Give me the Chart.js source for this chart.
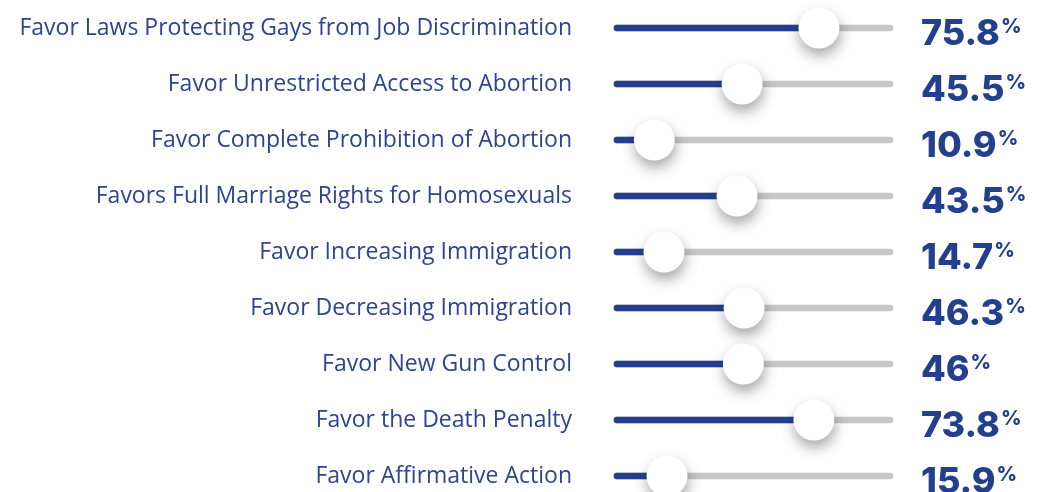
<!DOCTYPE html>
<html>
<head>
<meta charset="utf-8">
<script src="https://cdn.jsdelivr.net/npm/chart.js@4.4.1/dist/chart.umd.min.js"></script>
<style>
  html, body { margin: 0; padding: 0; background: #fff; }
  #wrap { width: 1040px; height: 492px; position: relative; }
</style>
</head>
<body>
<div id="wrap"><canvas id="opinions"></canvas></div>
<script>
const labels = [
  "Favor Laws Protecting Gays from Job Discrimination",
  "Favor Unrestricted Access to Abortion",
  "Favor Complete Prohibition of Abortion",
  "Favors Full Marriage Rights for Homosexuals",
  "Favor Increasing Immigration",
  "Favor Decreasing Immigration",
  "Favor New Gun Control",
  "Favor the Death Penalty",
  "Favor Affirmative Action"
];
const values = [75.8, 45.5, 10.9, 43.5, 14.7, 46.3, 46, 73.8, 15.9];
const valueLabels = ["75.8", "45.5", "10.9", "43.5", "14.7", "46.3", "46", "73.8", "15.9"];

const AXIS_MIN = -5;
const AXIS_MAX = 105;
const BLUE = "#243f8e";
const LABEL_BLUE = "#2d4393";
const TRACK = "#c6c6c6";

// shadow under the slider knobs
const knobShadow = {
  id: 'knobShadow',
  beforeDatasetDraw(chart, args) {
    if (args.index !== 0) return;
    const ctx = chart.ctx;
    ctx.save();
    ctx.shadowColor = 'rgba(0,0,0,0.35)';
    ctx.shadowBlur = 14;
    ctx.shadowOffsetX = 1;
    ctx.shadowOffsetY = 7;
  },
  afterDatasetDraw(chart, args) {
    if (args.index !== 0) return;
    chart.ctx.restore();
  }
};

// big percentage numbers to the right of each slider
const valueText = {
  id: 'valueText',
  afterDraw(chart) {
    const ctx = chart.ctx;
    const yScale = chart.scales.y;
    const x0 = chart.chartArea.right + 28;
    ctx.save();
    ctx.fillStyle = BLUE;
    ctx.textAlign = 'left';
    ctx.textBaseline = 'alphabetic';
    valueLabels.forEach((txt, i) => {
      const y = yScale.getPixelForValue(i);
      ctx.font = '800 36px Inter';
      ctx.fillText(txt, x0, y + 17);
      const w = ctx.measureText(txt).width;
      ctx.font = '800 20px Inter';
      ctx.fillText('%', x0 + w + 1, y + 5);
    });
    ctx.restore();
  }
};

new Chart(document.getElementById("opinions"), {
  type: 'bar',
  data: {
    labels: labels,
    datasets: [
      {
        type: 'line',
        data: values,
        showLine: false,
        pointRadius: 20.5,
        pointHoverRadius: 20.5,
        pointBackgroundColor: '#ffffff',
        pointBorderWidth: 0,
        pointBorderColor: '#ffffff',
        clip: false,
        order: 0
      },
      {
        data: values.map(v => [AXIS_MIN, v]),
        backgroundColor: BLUE,
        barThickness: 6,
        borderRadius: 3,
        borderSkipped: false,
        grouped: false,
        clip: false,
        order: 1
      },
      {
        data: values.map(() => [AXIS_MIN, AXIS_MAX]),
        backgroundColor: TRACK,
        barThickness: 6,
        borderRadius: 3,
        borderSkipped: false,
        grouped: false,
        clip: false,
        order: 2
      }
    ]
  },
  options: {
    indexAxis: 'y',
    responsive: true,
    maintainAspectRatio: false,
    animation: false,
    layout: { autoPadding: false, padding: { top: 28, bottom: 16, left: 0, right: 147 } },
    plugins: { legend: { display: false }, tooltip: { enabled: false } },
    scales: {
      x: { type: 'linear', min: AXIS_MIN, max: AXIS_MAX, display: false },
      y: {
        offset: false,
        grid: { display: false, drawTicks: false, offset: false },
        border: { display: false },
        ticks: {
          color: LABEL_BLUE,
          font: { family: 'Open Sans', size: 23 },
          padding: 42
        },
        afterFit(scale) {
          // fixed label column, no extra label padding top/bottom
          scale.width = 614;
          scale.paddingTop = 0;
          scale.paddingBottom = 0;
        }
      }
    }
  },
  plugins: [knobShadow, valueText]
});
</script>
</body>
</html>
